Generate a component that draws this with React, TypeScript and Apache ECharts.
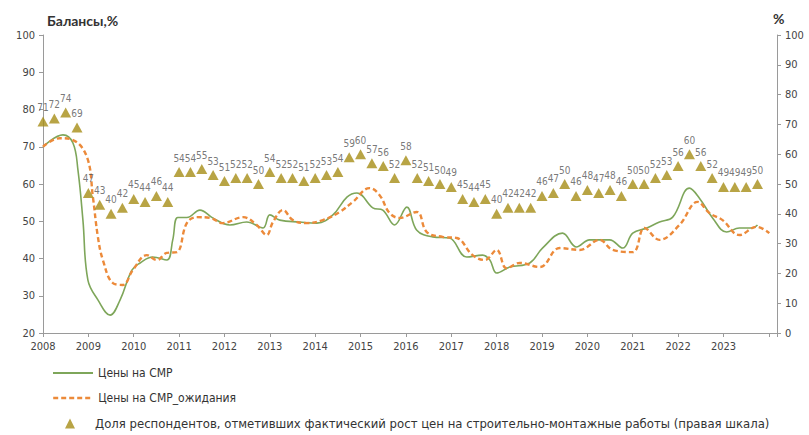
import React, { useEffect, useRef } from "react";
import * as echarts from "echarts";

// Quarterly share of respondents (right axis), 2008Q1..2023Q4
const shareYears: number[] = [];
for (let y = 2008; y <= 2023; y++) for (let q = 0; q < 4; q++) shareYears.push(y + q / 4);
const shareValues = [
  71, 72, 74, 69,
  47, 43, 40, 42,
  45, 44, 46, 44,
  54, 54, 55, 53,
  51, 52, 52, 50,
  54, 52, 52, 51,
  52, 53, 54, 59,
  60, 57, 56, 52,
  58, 52, 51, 50,
  49, 45, 44, 45,
  40, 42, 42, 42,
  46, 47, 50, 46,
  48, 47, 48, 46,
  50, 50, 52, 53,
  56, 60, 56, 52,
  49, 49, 49, 50,
];

// Prices for construction works (balance, left axis)
const priceX = [
  2008.0, 2008.44, 2008.66, 2008.77, 2008.88, 2008.99, 2009.21, 2009.48, 2009.7, 2009.96,
  2010.14, 2010.42, 2010.73, 2010.86, 2010.97, 2011.17, 2011.46, 2011.74, 2012.12, 2012.49,
  2012.85, 2013.0, 2013.22, 2013.66, 2014.04, 2014.39, 2014.7, 2014.92, 2015.27, 2015.49,
  2015.75, 2016.02, 2016.24, 2016.59, 2016.96, 2017.34, 2017.69, 2017.85, 2018.0, 2018.29,
  2018.73, 2019.01, 2019.45, 2019.76, 2020.05, 2020.49, 2020.78, 2021.0, 2021.31, 2021.59,
  2021.88, 2022.25, 2022.47, 2022.76, 2023.07, 2023.35, 2023.64, 2023.75,
];
const priceValues = [
  70, 73.2, 71, 63.8, 50.3, 34.2, 28.9, 24.8, 28.9, 36.9,
  38.8, 40.4, 39.6, 45, 51, 51, 53, 50.9, 49, 49.8,
  48.2, 51.7, 50.3, 49.8, 49.5, 51.7, 56.5, 57.6, 53.6, 53,
  49, 53.8, 47.6, 45.8, 45.5, 40.4, 40.9, 39.6, 36.1, 37.7,
  38.8, 42.8, 46.8, 43.1, 45, 45, 42.8, 46.8, 48.2, 49.8,
  51.1, 58.9, 56.2, 50.9, 47.1, 48.2, 48.2, 49,
];

// Price expectations (balance, left axis)
const expX = [
  2008.0, 2008.37, 2008.66, 2008.97, 2009.1, 2009.21, 2009.32, 2009.54, 2009.76, 2009.98,
  2010.29, 2010.51, 2010.73, 2010.95, 2011.17, 2011.39, 2011.68, 2011.96, 2012.41, 2012.71,
  2012.93, 2013.07, 2013.29, 2013.51, 2013.81, 2014.17, 2014.54, 2014.83, 2015.2, 2015.42,
  2015.64, 2015.86, 2016.24, 2016.46, 2016.81, 2017.12, 2017.47, 2017.74, 2018.0, 2018.22,
  2018.51, 2018.95, 2019.39, 2019.83, 2020.27, 2020.56, 2021.0, 2021.26, 2021.59, 2022.03,
  2022.43, 2022.69, 2022.98, 2023.35, 2023.73, 2024.01,
];
const expValues = [
  70, 72.3, 71.8, 67.2, 56.5, 45.8, 39.6, 33.4, 32.9, 36.9,
  40.9, 39.6, 41.5, 41.7, 49.5, 51.1, 50.9, 49.5, 51.1, 49,
  46.3, 49.8, 53, 50.3, 49.5, 50.3, 52.5, 55.2, 58.9, 57,
  52.2, 50.9, 52.5, 47.1, 45.8, 45.5, 40.9, 39.6, 42.3, 37.4,
  38.8, 37.7, 42.8, 42.3, 45, 42.3, 41.7, 48.2, 45, 49,
  55.2, 52.2, 50.3, 46.3, 48.5, 46.8,
];

const seriesNames = [
  "Цены на СМР",
  "Цены на СМР_ожидания",
  "Доля респондентов, отметивших фактический рост цен на строительно-монтажные работы (правая шкала)",
];

const NARROW = "'Liberation Sans Narrow', 'DejaVu Sans Condensed', 'Liberation Sans', sans-serif";

export default function App() {
  const ref = useRef<HTMLDivElement>(null);
  useEffect(() => {
    if (!ref.current) return;
    const chart = echarts.init(ref.current, undefined, { renderer: "svg" });
    const zip = (xs: number[], vs: number[]) => xs.map((x, i) => [x, vs[i]]);
    const legendText = { fontSize: 12, color: "#333", fontFamily: NARROW };
    chart.setOption({
      animation: false,
      backgroundColor: "#ffffff",
      title: [
        { text: "Балансы,%", left: 42, top: 8, textStyle: { fontSize: 14, fontWeight: "bold", color: "#333", fontFamily: "Lato, 'Open Sans', sans-serif" } },
        { text: "%", left: 768, top: 6, textStyle: { fontSize: 14, fontWeight: "bold", color: "#333", fontFamily: "Lato, 'Open Sans', sans-serif" } },
      ],
      grid: { left: 43, right: 32, top: 35, bottom: 102, containLabel: false },
      legend: [
        {
          left: 52, top: 367, itemWidth: 40, itemHeight: 10, padding: 0,
          data: [{ name: seriesNames[0], itemStyle: { opacity: 0 } }],
          lineStyle: { width: 2 },
          textStyle: legendText,
        },
        {
          left: 52, top: 392, itemWidth: 40, itemHeight: 10, padding: 0,
          data: [{ name: seriesNames[1], itemStyle: { opacity: 0 } }],
          lineStyle: { width: 2.4 },
          textStyle: legendText,
        },
        {
          left: 65, top: 417, itemWidth: 10, itemHeight: 10, padding: 0,
          data: [{ name: seriesNames[2], icon: "triangle" }],
          textStyle: { ...legendText, fontSize: 13, padding: [0, 0, 0, 15] },
        },
      ],
      xAxis: {
        type: "value",
        min: 2008,
        max: 2024.18,
        interval: 1,
        splitLine: { show: false },
        axisLine: { lineStyle: { color: "#9a9a9a" } },
        axisTick: { lineStyle: { color: "#9a9a9a" }, length: 4 },
        axisLabel: {
          color: "#444",
          fontSize: 11,
          fontFamily: NARROW,
          margin: 8,
          formatter: (v: number) => (v <= 2023 && Number.isInteger(v) ? String(v) : ""),
        },
      },
      yAxis: [
        {
          type: "value",
          min: 20,
          max: 100,
          interval: 10,
          splitLine: { show: false },
          axisLine: { show: true, lineStyle: { color: "#9a9a9a" } },
          axisTick: { show: true, lineStyle: { color: "#9a9a9a" }, length: 4 },
          axisLabel: { color: "#444", fontSize: 11, fontFamily: NARROW, margin: 8 },
        },
        {
          type: "value",
          min: 0,
          max: 100,
          interval: 10,
          position: "right",
          splitLine: { show: false },
          axisLine: { show: true, lineStyle: { color: "#9a9a9a" } },
          axisTick: { show: true, lineStyle: { color: "#9a9a9a" }, length: 4 },
          axisLabel: { color: "#444", fontSize: 11, fontFamily: NARROW, margin: 8 },
        },
      ],
      series: [
        {
          name: seriesNames[0],
          type: "line",
          yAxisIndex: 0,
          data: zip(priceX, priceValues),
          smooth: 0.4,
          symbol: "none",
          showSymbol: false,
          lineStyle: { color: "#7ea65a", width: 1.6 },
          itemStyle: { color: "#7ea65a" },
          z: 3,
        },
        {
          name: seriesNames[1],
          type: "line",
          yAxisIndex: 0,
          data: zip(expX, expValues),
          smooth: 0.4,
          symbol: "none",
          showSymbol: false,
          lineStyle: { color: "#ec8a3a", width: 2.4, type: [5, 3] },
          itemStyle: { color: "#ec8a3a" },
          z: 4,
        },
        {
          name: seriesNames[2],
          type: "scatter",
          yAxisIndex: 1,
          data: zip(shareYears, shareValues),
          symbol: "triangle",
          symbolSize: [11, 10],
          itemStyle: { color: "#a68d16" },
          label: {
            show: true,
            position: "top",
            distance: 4,
            formatter: (p: any) => String(p.value[1]),
            fontSize: 10,
            color: "#555",
            fontFamily: NARROW,
          },
          labelLayout: { hideOverlap: false },
          z: 5,
        },
      ],
    });
    return () => chart.dispose();
  }, []);
  return (
    <div
      ref={ref}
      style={{ position: "fixed", left: 0, top: 0, width: 809, height: 435, background: "#fff" }}
    />
  );
}
